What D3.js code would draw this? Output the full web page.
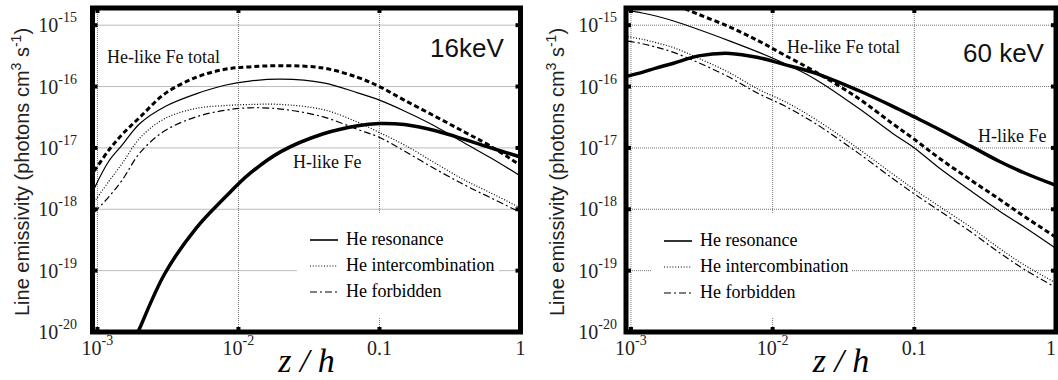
<!DOCTYPE html>
<html>
<head>
<meta charset="utf-8">
<script src="https://cdn.jsdelivr.net/npm/d3@7"></script>
<style>
  body { margin: 0; background: #fff; }
  .serif { font-family: "Liberation Serif", "Times New Roman", serif; }
  .sans { font-family: "Liberation Sans", Arial, sans-serif; }
</style>
</head>
<body>
<svg class="chart"></svg>
<script>
// DATA /////////////////////////////////////////
// z / h sample points (shared grid)
const zGrid = [0.00095, 0.0012, 0.0015, 0.002, 0.003, 0.005, 0.008, 0.012, 0.02, 0.04, 0.07, 0.1, 0.15, 0.25, 0.4, 0.6, 1.0];

// 16 keV panel (photons cm^3 s^-1)
const heTotal16 = [4.2e-18, 9.1e-18, 1.66e-17, 3.16e-17, 7.6e-17, 1.41e-16, 1.91e-16, 2.09e-16, 2.19e-16, 2.0e-16, 1.41e-16, 1.0e-16, 6.0e-17, 3.24e-17, 1.82e-17, 1.1e-17, 5.2e-18];
const heRes16 = [2.19e-18, 6.0e-18, 1.12e-17, 2.5e-17, 4.7e-17, 7.6e-17, 1.05e-16, 1.23e-16, 1.32e-16, 1.15e-16, 7.9e-17, 6.0e-17, 4.0e-17, 2.24e-17, 1.2e-17, 7.1e-18, 3.5e-18];
const heInter16 = [1.32e-18, 2.82e-18, 5.6e-18, 1.45e-17, 3.0e-17, 4.4e-17, 4.9e-17, 5.1e-17, 5.1e-17, 4.2e-17, 2.63e-17, 1.78e-17, 1.12e-17, 5.6e-18, 3.0e-18, 1.9e-18, 1.05e-18];
const heForb16 = [8.9e-19, 1.58e-18, 3.0e-18, 8.3e-18, 1.9e-17, 3.2e-17, 4.1e-17, 4.5e-17, 4.3e-17, 3.2e-17, 2.0e-17, 1.48e-17, 8.9e-18, 4.5e-18, 2.5e-18, 1.58e-18, 8.9e-19];
const zH16 = [0.0019, 0.002, 0.003, 0.005, 0.008, 0.012, 0.02, 0.04, 0.07, 0.1, 0.15, 0.25, 0.4, 0.6, 1.0];
const hLike16 = [8.9e-21, 1.17e-20, 8.9e-20, 4.9e-19, 1.55e-18, 3.8e-18, 8.7e-18, 1.7e-17, 2.3e-17, 2.5e-17, 2.4e-17, 1.9e-17, 1.38e-17, 1.02e-17, 7.1e-18];

// 60 keV panel
const zTot60 = [0.0024, 0.003, 0.005, 0.008, 0.012, 0.02, 0.04, 0.07, 0.1, 0.15, 0.25, 0.4, 0.6, 1.0];
const heTotal60 = [1.86e-15, 1.5e-15, 9.3e-16, 5.5e-16, 3.3e-16, 1.74e-16, 6.5e-17, 2.5e-17, 1.38e-17, 6.8e-18, 3.0e-18, 1.45e-18, 7.6e-19, 3.5e-19];
const heRes60 = [1.74e-15, 1.58e-15, 1.41e-15, 1.17e-15, 8.5e-16, 5.5e-16, 3.6e-16, 2.4e-16, 1.32e-16, 4.5e-17, 1.74e-17, 1.0e-17, 4.7e-18, 2.0e-18, 9.3e-19, 5.1e-19, 2.3e-19];
const heInter60 = [6.5e-16, 5.9e-16, 5.2e-16, 4.3e-16, 2.9e-16, 1.66e-16, 8.9e-17, 5.8e-17, 2.95e-17, 9.8e-18, 3.8e-18, 2.1e-18, 1.12e-18, 5.1e-19, 2.3e-19, 1.23e-19, 6.3e-20];
const heForb60 = [5.5e-16, 5.0e-16, 4.4e-16, 3.6e-16, 2.45e-16, 1.4e-16, 7.6e-17, 4.9e-17, 2.5e-17, 8.3e-18, 3.2e-18, 1.78e-18, 9.5e-19, 4.3e-19, 1.95e-19, 1.04e-19, 5.3e-20];
const hLike60 = [1.48e-16, 1.7e-16, 2.0e-16, 2.4e-16, 3.16e-16, 3.47e-16, 2.95e-16, 2.3e-16, 1.66e-16, 8.7e-17, 4.8e-17, 3.2e-17, 2.0e-17, 1.07e-17, 6.0e-18, 3.9e-18, 2.45e-18];

// ticks and labels
const yTickExps = [-20, -19, -18, -17, -16, -15];
const xTickVals = [0.001, 0.01, 0.1, 1];
const xTickLabels = [["10", "-3"], ["10", "-2"], ["0.1", ""], ["1", ""]];
const legendNames = ["He resonance", "He intercombination", "He forbidden"];

// DEFINITIONS //////////////////////////////////
const W = 1058, H = 380;
const svg = d3.select(".chart").attr("width", W).attr("height", H);

const styles = {
  total: { w: 3, dash: "5,3" },
  res: { w: 1.2, dash: null },
  inter: { w: 1.2, dash: "1,1.8" },
  forb: { w: 1.2, dash: "7,3,2,3" },
  hlike: { w: 3.5, dash: null }
};

const panels = [
  {
    id: "p16", x0: 92.5, x1: 520.5, yLabX: 77, titleX: 22,
    series: [
      { z: zGrid, v: heTotal16, s: styles.total },
      { z: zGrid, v: heRes16, s: styles.res },
      { z: zGrid, v: heInter16, s: styles.inter },
      { z: zGrid, v: heForb16, s: styles.forb },
      { z: zH16, v: hLike16, s: styles.hlike }
    ],
    legend: { bx: 297, bw: 202, lx: 310, tx: 346, y: 240 },
    notes: [
      { t: "He-like Fe total", x: 107, y: 63, c: "serif", f: 18 },
      { t: "16keV", x: 430, y: 57, c: "sans", f: 26 },
      { t: "H-like Fe", x: 293, y: 168, c: "serif", f: 18 }
    ]
  },
  {
    id: "p60", x0: 626, x1: 1056, yLabX: 617, titleX: 557,
    series: [
      { z: zTot60, v: heTotal60, s: styles.total },
      { z: zGrid, v: heRes60, s: styles.res },
      { z: zGrid, v: heInter60, s: styles.inter },
      { z: zGrid, v: heForb60, s: styles.forb },
      { z: zGrid, v: hLike60, s: styles.hlike }
    ],
    legend: { bx: 652, bw: 200, lx: 664, tx: 700, y: 241 },
    notes: [
      { t: "He-like Fe total", x: 787, y: 53, c: "serif", f: 18 },
      { t: "60 keV", x: 963, y: 62, c: "sans", f: 26 },
      { t: "H-like Fe", x: 978, y: 142, c: "serif", f: 18 }
    ]
  }
];

const y0 = 8, y1 = 332;

// DRAW PANELS //////////////////////////////////
panels.forEach((p) => {
  const x = d3.scaleLog().domain([Math.pow(10, -3.035), 1]).range([p.x0, p.x1]);
  const y = d3.scaleLog().domain([1e-20, Math.pow(10, -14.72)]).range([y1, y0]);
  const g = svg.append("g");

  g.append("clipPath").attr("id", "clip-" + p.id)
    .append("rect").attr("x", p.x0).attr("y", y0)
    .attr("width", p.x1 - p.x0).attr("height", y1 - y0);

  // grid
  const grid = g.append("g").attr("stroke", "#777").attr("stroke-width", 1)
    .attr("stroke-dasharray", "1,1");
  grid.selectAll(".gx").data(xTickVals.slice(0, 3)).enter().append("line")
    .attr("x1", (d) => x(d)).attr("x2", (d) => x(d))
    .attr("y1", y0).attr("y2", y1);
  grid.selectAll(".gy").data(yTickExps.slice(1)).enter().append("line")
    .attr("x1", p.x0).attr("x2", p.x1)
    .attr("y1", (d) => y(Math.pow(10, d))).attr("y2", (d) => y(Math.pow(10, d)));

  // legend box hides grid
  const L = p.legend;
  g.append("rect").attr("x", L.bx).attr("y", 214).attr("width", L.bw).attr("height", 104)
    .attr("fill", "#fff");
  const keys = [styles.res, styles.inter, styles.forb];
  keys.forEach((s, i) => {
    const yy = L.y + i * 26;
    g.append("line").attr("x1", L.lx).attr("x2", L.lx + 28).attr("y1", yy).attr("y2", yy)
      .attr("stroke", "#000").attr("stroke-width", i === 0 ? 1.6 : 1.2)
      .attr("stroke-dasharray", s.dash);
    g.append("text").attr("class", "serif").attr("x", L.tx).attr("y", yy + 5)
      .attr("font-size", 18).text(legendNames[i]);
  });

  // curves
  const line = d3.line().x((d) => x(d[0])).y((d) => y(d[1])).curve(d3.curveCatmullRom.alpha(0.5));
  const curves = g.append("g").attr("clip-path", `url(#clip-${p.id})`);
  p.series.forEach((sr) => {
    curves.append("path")
      .datum(sr.z.map((z, i) => [z, sr.v[i]]))
      .attr("d", line)
      .attr("fill", "none").attr("stroke", "#000")
      .attr("stroke-width", sr.s.w)
      .attr("stroke-dasharray", sr.s.dash);
  });

  // frame
  g.append("rect").attr("x", p.x0).attr("y", y0)
    .attr("width", p.x1 - p.x0).attr("height", y1 - y0)
    .attr("fill", "none").attr("stroke", "#000").attr("stroke-width", 5);

  // tick squares
  const tk = g.append("g").attr("fill", "#000");
  xTickVals.slice(0, 3).forEach((v) => {
    tk.append("rect").attr("x", x(v) - 2).attr("y", y0).attr("width", 4).attr("height", 5);
    tk.append("rect").attr("x", x(v) - 2).attr("y", y1 - 5).attr("width", 4).attr("height", 5);
  });
  yTickExps.slice(1).forEach((e) => {
    const yy = y(Math.pow(10, e));
    tk.append("rect").attr("x", p.x0).attr("y", yy - 2).attr("width", 5).attr("height", 4);
    tk.append("rect").attr("x", p.x1 - 5).attr("y", yy - 2).attr("width", 5).attr("height", 4);
  });

  // y tick labels
  yTickExps.forEach((e) => {
    const t = g.append("text").attr("class", "serif").attr("text-anchor", "end")
      .attr("x", p.yLabX).attr("y", y(Math.pow(10, e)) + 7).attr("font-size", 20).attr("fill", "#222");
    t.append("tspan").text("10");
    t.append("tspan").attr("dy", -10).attr("font-size", 14).text(String(e));
  });

  // x tick labels (keep the last one inside the page)
  xTickVals.forEach((v, i) => {
    const lab = xTickLabels[i];
    const t = g.append("text").attr("class", "serif").attr("text-anchor", "middle")
      .attr("x", Math.min(x(v), W - 7)).attr("y", 355).attr("font-size", 20).attr("fill", "#222");
    t.append("tspan").text(lab[0]);
    if (lab[1]) t.append("tspan").attr("dy", -10).attr("font-size", 14).text(lab[1]);
  });

  // axis titles
  g.append("text").attr("class", "serif").attr("text-anchor", "middle")
    .attr("x", (p.x0 + p.x1) / 2).attr("y", 372)
    .attr("font-size", 34).attr("font-style", "italic").text("z / h");

  const yt = g.append("text").attr("class", "sans").attr("text-anchor", "middle")
    .attr("transform", `translate(${p.titleX + 7}, 172) rotate(-90)`)
    .attr("font-size", 20).attr("fill", "#222");
  yt.append("tspan").text("Line emissivity (photons cm");
  yt.append("tspan").attr("dy", -8).attr("font-size", 14).text("3");
  yt.append("tspan").attr("dy", 8).text(" s");
  yt.append("tspan").attr("dy", -8).attr("font-size", 14).text("-1");
  yt.append("tspan").attr("dy", 8).text(")");

  // annotations
  p.notes.forEach((n) => {
    g.append("text").attr("class", n.c).attr("x", n.x).attr("y", n.y)
      .attr("font-size", n.f).attr("fill", "#111").text(n.t);
  });
});
</script>
</body>
</html>
